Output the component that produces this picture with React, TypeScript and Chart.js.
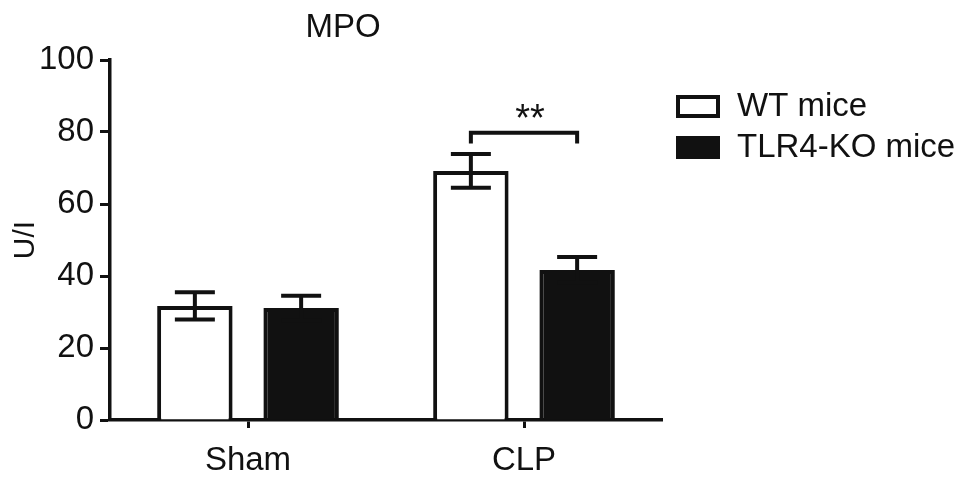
import React, { useEffect, useRef } from "react";
import { Chart, registerables } from "chart.js";

Chart.register(...registerables);

const categories = ["Sham", "CLP"];
const wtValues = [31.7, 69.2];
const wtErrors = [3.8, 4.7];
const koValues = [31.1, 41.7];
const koErrors = [3.4, 3.6];
const seriesNames = ["WT mice", "TLR4-KO mice"];
const yTicks = [0, 20, 40, 60, 80, 100];
const chartTitle = "MPO";
const yTitle = "U/I";
const sigLabel = "**";
const sigLevel = 79.8;
const sigLeg = 3;

const FONT = "'Liberation Sans', Arial, Helvetica, sans-serif";
const INK = "#111111";

const overlay = {
  id: "overlay",
  afterDatasetsDraw(chart: any) {
    const ctx = chart.ctx;
    const ys = chart.scales.y;
    const errs = [wtErrors, koErrors];
    ctx.save();
    ctx.strokeStyle = INK;
    ctx.lineWidth = 4;
    ctx.lineCap = "butt";
    chart.data.datasets.forEach((ds: any, di: number) => {
      const meta = chart.getDatasetMeta(di);
      meta.data.forEach((bar: any, i: number) => {
        const v = ds.data[i];
        const e = errs[di][i];
        const x = bar.x;
        const yT = ys.getPixelForValue(v + e);
        const yB = ys.getPixelForValue(v - e);
        const half = 20;
        ctx.beginPath();
        ctx.moveTo(x, yT);
        ctx.lineTo(x, yB);
        ctx.moveTo(x - half, yT);
        ctx.lineTo(x + half, yT);
        ctx.moveTo(x - half, yB);
        ctx.lineTo(x + half, yB);
        ctx.stroke();
      });
    });
    // significance bracket
    const x1 = chart.getDatasetMeta(0).data[1].x;
    const x2 = chart.getDatasetMeta(1).data[1].x;
    const yb = ys.getPixelForValue(sigLevel);
    const yl = ys.getPixelForValue(sigLevel - sigLeg);
    ctx.beginPath();
    ctx.moveTo(x1, yl);
    ctx.lineTo(x1, yb);
    ctx.lineTo(x2, yb);
    ctx.lineTo(x2, yl);
    ctx.stroke();
    ctx.fillStyle = INK;
    ctx.font = `38px ${FONT}`;
    ctx.textAlign = "center";
    ctx.textBaseline = "middle";
    ctx.fillText(sigLabel, (x1 + x2) / 2 + 6, yb - 12);
    ctx.restore();
  },
  afterDraw(chart: any) {
    const ctx = chart.ctx;
    ctx.save();
    ctx.fillStyle = INK;
    ctx.font = `33px ${FONT}`;
    ctx.textAlign = "center";
    ctx.textBaseline = "middle";
    ctx.fillText(chartTitle, 335, 20);
    // legend
    const bx = 668;
    const rows = [98, 139];
    rows.forEach((cy, i) => {
      ctx.lineWidth = 4;
      ctx.strokeStyle = INK;
      ctx.fillStyle = i === 0 ? "#ffffff" : INK;
      ctx.beginPath();
      ctx.rect(bx + 2, cy - 9, 40, 19);
      ctx.fill();
      ctx.stroke();
      ctx.fillStyle = INK;
      ctx.textAlign = "left";
      ctx.fillText(seriesNames[i], 729, cy + 1);
    });
    ctx.restore();
  },
};

export default function App() {
  const ref = useRef<HTMLCanvasElement | null>(null);
  useEffect(() => {
    if (!ref.current) return;
    const chart = new Chart(ref.current, {
      type: "bar",
      data: {
        labels: categories,
        datasets: [
          {
            label: seriesNames[0],
            data: wtValues,
            backgroundColor: "#ffffff",
            borderColor: INK,
            borderWidth: 4,
            borderSkipped: "bottom",
            categoryPercentage: 0.77,
            barPercentage: 0.71,
          },
          {
            label: seriesNames[1],
            data: koValues,
            backgroundColor: INK,
            borderColor: INK,
            borderWidth: 4,
            borderSkipped: "bottom",
            categoryPercentage: 0.77,
            barPercentage: 0.71,
          },
        ],
      },
      options: {
        responsive: true,
        maintainAspectRatio: false,
        animation: false,
        layout: { padding: { top: 52, right: 299, left: 0, bottom: 0 } },
        plugins: {
          legend: { display: false },
          title: { display: false },
          tooltip: { enabled: false },
        },
        scales: {
          x: {
            grid: {
              display: true,
              offset: false,
              drawOnChartArea: false,
              drawTicks: true,
              tickLength: 8,
              tickWidth: 3,
              tickColor: INK,
            },
            border: { display: true, color: INK, width: 3.5 },
            ticks: {
              color: INK,
              font: { family: FONT, size: 33 },
              padding: 13,
            },
            afterFit(scale: any) {
              scale.height = 58;
            },
          },
          y: {
            min: 0,
            max: 100,
            afterBuildTicks(scale: any) {
              scale.ticks = yTicks.map((v) => ({ value: v }));
            },
            grid: {
              display: true,
              drawOnChartArea: false,
              drawTicks: true,
              tickLength: 10,
              tickWidth: 3,
              tickColor: INK,
            },
            border: { display: true, color: INK, width: 3.5 },
            ticks: {
              color: INK,
              font: { family: FONT, size: 33 },
              padding: 6,
            },
            title: {
              display: true,
              text: yTitle,
              color: INK,
              font: { family: FONT, size: 30 },
              padding: { top: 0, bottom: 0 },
            },
            afterFit(scale: any) {
              scale.width = 102;
            },
          },
        },
      },
      plugins: [overlay],
    });
    return () => chart.destroy();
  }, []);
  return (
    <div style={{ width: 953, height: 470, position: "relative" }}>
      <canvas ref={ref} />
    </div>
  );
}
